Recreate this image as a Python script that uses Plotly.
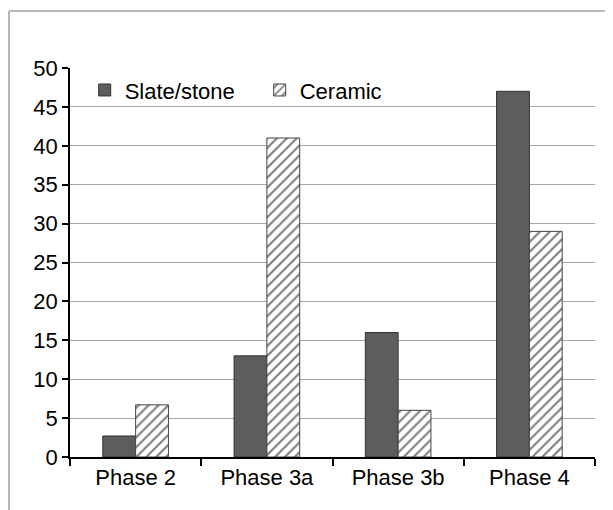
import plotly.graph_objects as go

categories = ["Phase 2", "Phase 3a", "Phase 3b", "Phase 4"]
slate_stone = [2.7, 13, 16, 47]
ceramic = [6.7, 41, 6, 29]
y_ticks = list(range(0, 51, 5))

FONT = "Liberation Sans, Arial, sans-serif"

fig = go.Figure()
fig.add_trace(go.Bar(
    x=categories, y=slate_stone, name="Slate/stone",
    marker=dict(color="#5d5d5d", line=dict(color="#333333", width=1)),
))
fig.add_trace(go.Bar(
    x=categories, y=ceramic, name="Ceramic",
    marker=dict(color="white", line=dict(color="#444444", width=1),
                pattern=dict(shape="/", fgcolor="#000000", bgcolor="white",
                             size=7, solidity=0.3)),
))

# the page has an 8px body margin, so the figure is 605x502 placed at (8, 8)
W, H = 605, 502
L, R, T, B = 62, 18, 60, 53
fig.update_layout(
    width=W, height=H,
    margin=dict(l=L, r=R, t=T, b=B),
    paper_bgcolor="white", plot_bgcolor="white",
    barmode="group", bargap=0.5, bargroupgap=0,
    font=dict(family=FONT, size=22, color="black"),
    showlegend=True,
    legend=dict(orientation="h", x=0.028, xanchor="left", y=0.943, yanchor="middle",
                bgcolor="rgba(0,0,0,0)", font=dict(size=22), entrywidth=130,
                traceorder="normal"),
    xaxis=dict(showline=True, linecolor="black", linewidth=1.5,
               ticks="outside", tickson="boundaries", ticklen=7, tickcolor="black",
               tickwidth=1.5, showgrid=False),
    yaxis=dict(range=[0, 50], tickvals=y_ticks, showline=True, linecolor="black",
               linewidth=1.5, ticks="outside", ticklen=6, tickcolor="black", tickwidth=1.5,
               showgrid=True, gridcolor="#a8a8a8", gridwidth=1, zeroline=False),
)

# outer frame (top and left edges visible)
pw, ph = W - L - R, H - T - B
def px(x): return (x - L) / pw
def py(y): return (H - B - y) / ph
frame = dict(type="line", xref="paper", yref="paper", line=dict(color="#b8b8b8", width=2))
fig.add_shape(**frame, x0=px(1), x1=px(W), y0=py(3), y1=py(3))
fig.add_shape(**frame, x0=px(1), x1=px(1), y0=py(3), y1=py(H))

fig.write_html("out.html")
